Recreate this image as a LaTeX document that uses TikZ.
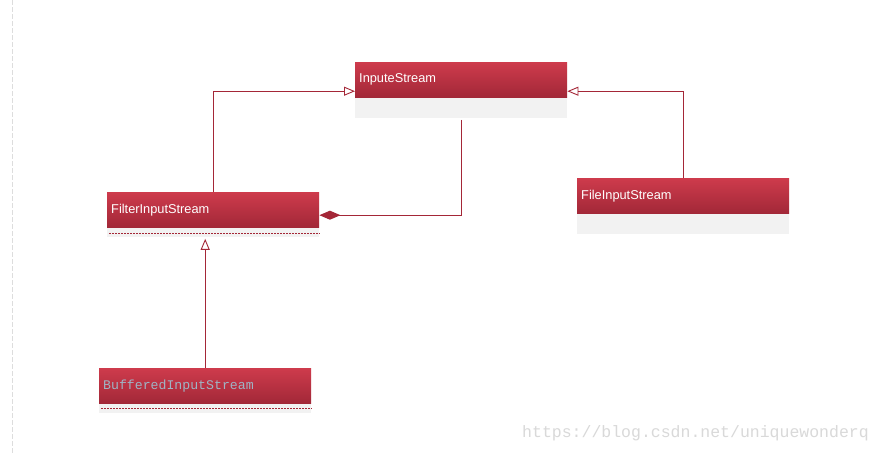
\documentclass[tikz,border=0pt]{standalone}
\usepackage{fontspec}
\setmainfont{Liberation Sans}
\newfontfamily\monofnt{Liberation Mono}
\usetikzlibrary{arrows.meta}
\definecolor{hdrtop}{HTML}{CE3B4C}
\definecolor{hdrbot}{HTML}{A22838}
\definecolor{bodygray}{HTML}{F2F2F2}
\definecolor{conncol}{HTML}{A42737}
\definecolor{bufftext}{HTML}{9FB4C4}
\definecolor{wmark}{HTML}{D9D9D9}
\definecolor{sidegray}{HTML}{DDDDDD}
\tikzset{
  hdr/.style={rectangle, anchor=north west, top color=hdrtop, bottom color=hdrbot,
    draw=none, text=white, font=\fontsize{12.8}{14}\selectfont,
    text width=204pt, inner xsep=4pt, inner ysep=0pt, minimum height=35pt, align=left},
  bodybox/.style={rectangle, anchor=north west, fill=bodygray, draw=none,
    minimum width=212pt, inner sep=0pt},
  conn/.style={draw=conncol, line width=1pt},
  inherit/.style={conn, -{Triangle[open, length=11pt, width=9pt, line width=0.9pt]}},
  compose/.style={conn, -{Diamond[length=21pt, width=9pt, fill=conncol]}},
  sepline/.style={draw=conncol, dashed, dash pattern=on 2pt off 1pt, line width=0.6pt},
}
\begin{document}
\begin{tikzpicture}[x=1pt, y=-1pt]
\useasboundingbox[fill=white] (0,0) rectangle (883,453);
\coordinate (st) at (12,0);
\coordinate (sb) at (12,453);
\draw[sidegray, dashed, dash pattern=on 5pt off 2pt, line width=0.8pt] (st) -- (sb);

% InputeStream
\node[hdr] (ih) at (355,62) {InputeStream};
\node[bodybox, minimum height=20pt] (ib) at (ih.south west) {};

% FilterInputStream
\node[hdr] (fh) at (107,192) {FilterInputStream};
\node[bodybox, minimum height=9pt] (fb) at (fh.south west) {};
\coordinate (fdl) at ([xshift=2pt,yshift=-6pt]fh.south west);
\coordinate (fdr) at ([yshift=-6pt]fh.south east);
\draw[sepline] (fdl) -- (fdr);

% FileInputStream
\node[hdr] (flh) at (577,178) {FileInputStream};
\node[bodybox, minimum height=20pt] (flb) at (flh.south west) {};

% BufferedInputStream
\node[hdr, font=\monofnt\fontsize{13.2}{15}\selectfont, text=bufftext] (bh) at (99,368) {BufferedInputStream};
\node[bodybox, minimum height=9pt] (bb) at (bh.south west) {};
\coordinate (bdl) at ([xshift=2pt,yshift=-5pt]bh.south west);
\coordinate (bdr) at ([yshift=-5pt]bh.south east);
\draw[sepline] (bdl) -- (bdr);

% connectors
\draw[inherit] (fh.north) |- ([yshift=-11.5pt]ih.west);
\draw[inherit] (flh.north) |- ([yshift=-11.5pt]ih.east);
\draw[compose] ([yshift=-2pt]ib.south) |- ([yshift=-5.5pt]fh.east);
\draw[inherit] (bh.north) -- ([yshift=-2pt]bh.north |- fb.south);

% watermark
\node[text=wmark, font=\monofnt\fontsize{16.5}{18}\selectfont, anchor=west, inner sep=0pt] (wm) at (522,433) {https://blog.csdn.net/uniquewonderq};
\end{tikzpicture}
\end{document}
